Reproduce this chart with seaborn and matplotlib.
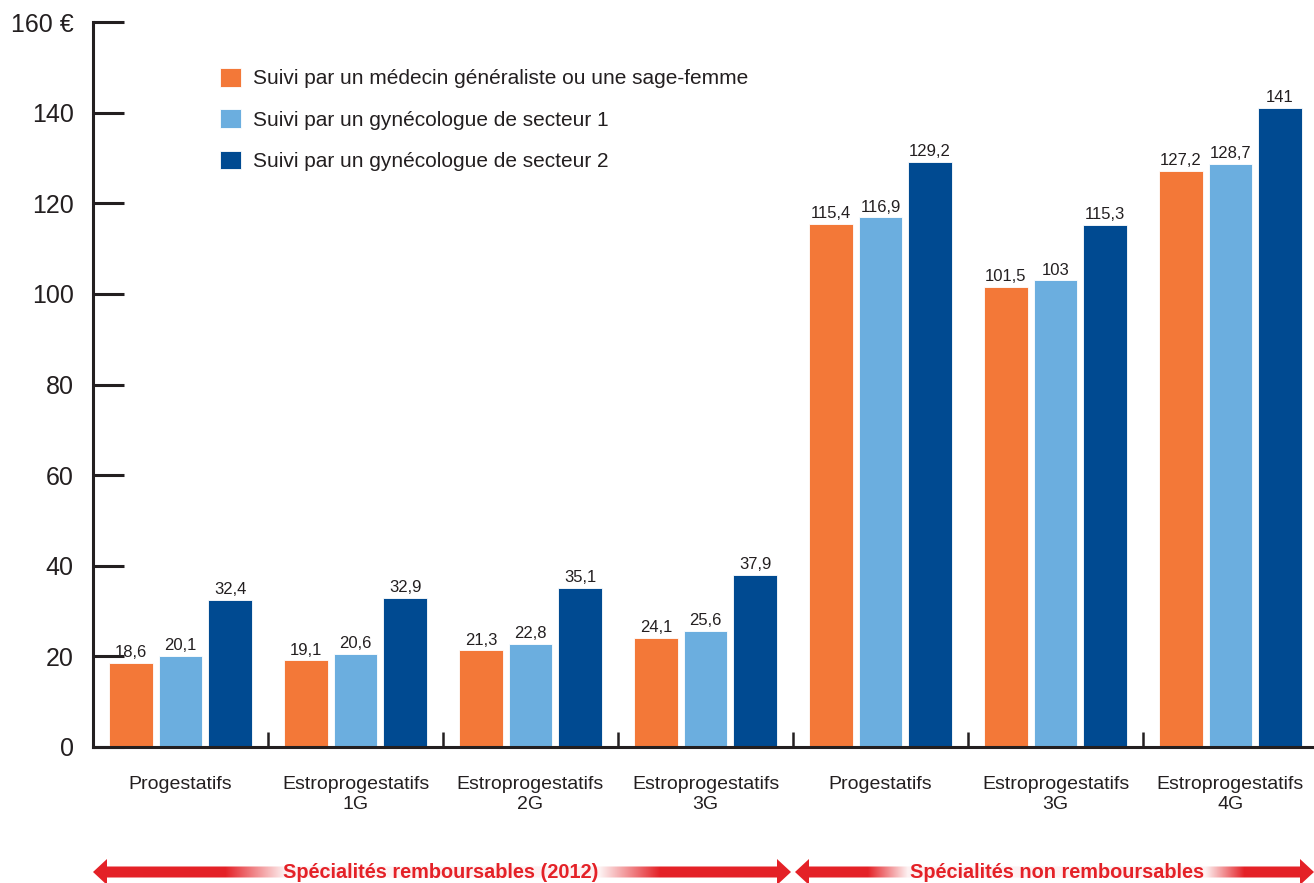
import numpy as np
import pandas as pd
import matplotlib
matplotlib.use("Agg")
import matplotlib.pyplot as plt
from matplotlib.patches import Polygon
from matplotlib.ticker import FixedLocator
import seaborn as sns

# ---------------- data ----------------
groupes = ["Progestatifs", "Estroprogestatifs\n1G", "Estroprogestatifs\n2G",
           "Estroprogestatifs\n3G", "Progestatifs", "Estroprogestatifs\n3G",
           "Estroprogestatifs\n4G"]
series = ["Suivi par un médecin généraliste ou une sage-femme",
          "Suivi par un gynécologue de secteur 1",
          "Suivi par un gynécologue de secteur 2"]
medecin = [18.6, 19.1, 21.3, 24.1, 115.4, 101.5, 127.2]
gyneco1 = [20.1, 20.6, 22.8, 25.6, 116.9, 103.0, 128.7]
gyneco2 = [32.4, 32.9, 35.1, 37.9, 129.2, 115.3, 141.0]
yticks = [0, 20, 40, 60, 80, 100, 120, 140, 160]
ytick_labels = ["0", "20", "40", "60", "80", "100", "120", "140", "160 €"]
bandeaux = ["Spécialités remboursables (2012)", "Spécialités non remboursables"]

colors = ["#F37838", "#6BAEDF", "#004A91"]
dark = "#231F20"
red = "#E42127"

rows = []
for s, vals in zip(series, [medecin, gyneco1, gyneco2]):
    for i, v in enumerate(vals):
        rows.append({"groupe": i, "suivi": s, "valeur": v})
df = pd.DataFrame(rows)

sns.set_style("white")
plt.rcParams["font.family"] = ["Liberation Sans", "DejaVu Sans"]

W, H = 1314, 883
fig = plt.figure(figsize=(W / 100, H / 100), dpi=100)
ax = fig.add_axes([93 / W, (H - 747) / H, 1221 / W, 725 / H])

sns.barplot(data=df, x="groupe", y="valeur", hue="suivi", hue_order=series,
            palette=colors, width=0.85, gap=0.12, ax=ax,
            edgecolor="white", linewidth=0.6, saturation=1, errorbar=None)

def fmt(v):
    if float(v).is_integer():
        return f"{int(v)}"
    return f"{v:.1f}".replace(".", ",")

for cont, vals in zip(ax.containers, [medecin, gyneco1, gyneco2]):
    ax.bar_label(cont, labels=[fmt(v) for v in vals], padding=2,
                 fontsize=12, color=dark)

ax.set_xlim(-0.5, -0.5 + 1221 / 175)
ax.set_ylim(0, 160)
ax.set_yticks(yticks)
ax.set_yticklabels(ytick_labels, fontsize=18, color=dark)
ax.set_xticks(range(len(groupes)))
ax.set_xticklabels(groupes, fontsize=14, color=dark, linespacing=1.25)
ax.xaxis.set_minor_locator(FixedLocator([i + 0.5 for i in range(len(groupes) - 1)]))
ax.tick_params(axis="y", direction="in", length=22, width=2.2, color=dark,
               pad=14, left=True)
ax.tick_params(axis="x", which="major", length=0, pad=21, bottom=True)
ax.tick_params(axis="x", which="minor", direction="in", length=11, width=1.8,
               color=dark, bottom=True)
for side in ["top", "right"]:
    ax.spines[side].set_visible(False)
for side in ["left", "bottom"]:
    ax.spines[side].set_linewidth(2.2)
    ax.spines[side].set_color(dark)
ax.set_xlabel("")
ax.set_ylabel("")

handles, labels = ax.get_legend_handles_labels()
ax.legend(handles, labels, loc="upper left",
          bbox_to_anchor=(220 / W, 1 - 68 / H), bbox_transform=fig.transFigure,
          frameon=False, borderpad=0, borderaxespad=0, fontsize=15,
          handlelength=1.0, handleheight=1.0, handletextpad=0.6,
          labelspacing=1.0, labelcolor=dark)

# ---------------- bottom arrows ----------------
ov = fig.add_axes([0, 0, 1, 1])
ov.set_xlim(0, W)
ov.set_ylim(H, 0)
ov.axis("off")

def arrow_poly(x0, x1, yc, sh=11, hh=26, hl=14):
    return [(x0, yc), (x0 + hl, yc - hh / 2), (x0 + hl, yc - sh / 2),
            (x1 - hl, yc - sh / 2), (x1 - hl, yc - hh / 2), (x1, yc),
            (x1 - hl, yc + hh / 2), (x1 - hl, yc + sh / 2),
            (x0 + hl, yc + sh / 2), (x0 + hl, yc + hh / 2)]

xs = np.arange(0, W + 1)
wx = np.interp(xs, [0, 225, 285, 600, 660, 868, 908, 1206, 1245, W],
               [1, 1, 0.06, 0.06, 1, 1, 0.06, 0.06, 1, 1])
rc = np.array(matplotlib.colors.to_rgb(red))
img = (wx[:, None] * rc[None, :] + (1 - wx[:, None]) * np.array([1, 1, 1])[None, :])
img = img[None, :, :]

yc = 872
for (x0, x1) in [(93, 791), (795, 1314)]:
    poly = Polygon(arrow_poly(x0, x1, yc), closed=True, facecolor="none",
                   edgecolor="none", transform=ov.transData)
    ov.add_patch(poly)
    im = ov.imshow(img, extent=(0, W, yc + 14, yc - 14), aspect="auto",
                   interpolation="bilinear")
    im.set_clip_path(poly)

ov.set_xlim(0, W)
ov.set_ylim(H, 0)
ov.text(441, yc, bandeaux[0], ha="center", va="center", fontsize=14.3,
        fontweight="bold", color=red)
ov.text(1057, yc, bandeaux[1], ha="center", va="center", fontsize=14.3,
        fontweight="bold", color=red)

fig.savefig("out.png", dpi=100)
